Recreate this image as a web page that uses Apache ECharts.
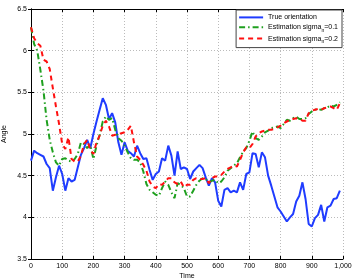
<!DOCTYPE html>
<html><head><meta charset="utf-8">
<script src="https://cdn.jsdelivr.net/npm/echarts@6/dist/echarts.min.js"></script>
<style>html,body{margin:0;padding:0;background:#fff}#c{width:354px;height:280px}</style>
</head><body><div id="c"></div>
<script>
var times = [0,10,20,30,40,50,60,70,80,90,100,110,120,130,140,150,160,170,180,190,200,210,220,230,240,250,260,270,280,290,300,310,320,330,340,350,360,370,380,390,400,410,420,430,440,450,460,470,480,490,500,510,520,530,540,550,560,570,580,590,600,610,620,630,640,650,660,670,680,690,700,710,720,730,740,750,760,770,780,790,800,810,820,830,840,850,860,870,880,890,900,910,920,930,940,950,960,970,980,990];
var trueOrientation = [4.68,4.80,4.77,4.75,4.73,4.64,4.59,4.32,4.48,4.62,4.52,4.32,4.47,4.43,4.45,4.60,4.75,4.83,4.93,4.83,5.00,5.15,5.29,5.43,5.35,5.18,5.25,5.14,4.90,4.75,4.90,4.80,4.77,4.73,4.86,4.77,4.70,4.71,4.57,4.45,4.52,4.55,4.71,4.68,4.86,4.74,4.50,4.79,4.58,4.60,4.58,4.46,4.55,4.59,4.63,4.59,4.48,4.38,4.47,4.42,4.20,4.13,4.33,4.35,4.30,4.32,4.30,4.42,4.33,4.52,4.54,4.77,4.76,4.60,4.78,4.72,4.50,4.38,4.25,4.12,4.07,4.01,3.95,4.00,4.04,4.19,4.26,4.42,4.22,3.92,3.89,3.99,4.03,4.15,3.95,4.12,4.14,4.22,4.23,4.32];
var estSigma01 = [6.28,6.08,6.00,5.77,5.52,5.17,4.93,4.78,4.66,4.62,4.70,4.71,4.68,4.67,4.70,4.76,4.90,4.88,4.83,4.87,4.70,4.86,4.99,5.15,5.21,5.17,5.19,5.05,4.95,4.92,4.86,4.78,4.71,4.69,4.69,4.66,4.55,4.40,4.33,4.30,4.27,4.26,4.35,4.43,4.39,4.30,4.23,4.41,4.39,4.35,4.25,4.25,4.32,4.39,4.44,4.47,4.46,4.42,4.44,4.45,4.41,4.43,4.48,4.56,4.59,4.62,4.65,4.72,4.79,4.83,4.92,5.03,4.95,4.93,4.97,5.02,5.04,5.07,5.08,5.09,5.07,5.12,5.17,5.16,5.19,5.21,5.18,5.18,5.19,5.24,5.27,5.29,5.30,5.29,5.31,5.32,5.34,5.33,5.35,5.38];
var estSigma02 = [6.28,6.15,6.09,6.06,5.89,5.87,5.78,5.55,5.33,5.12,4.88,4.82,4.96,4.70,4.67,4.67,4.74,4.88,4.93,4.81,4.76,4.90,4.98,5.10,5.16,5.09,4.98,4.99,5.00,5.01,5.02,5.05,5.10,4.90,4.73,4.69,4.63,4.56,4.43,4.37,4.35,4.40,4.39,4.43,4.47,4.47,4.42,4.40,4.43,4.36,4.39,4.39,4.45,4.47,4.46,4.46,4.47,4.41,4.47,4.49,4.49,4.51,4.55,4.58,4.60,4.62,4.61,4.69,4.78,4.84,4.83,4.88,4.97,5.01,5.03,5.04,5.05,5.05,5.06,5.08,5.10,5.13,5.15,5.17,5.18,5.19,5.18,5.16,5.16,5.25,5.28,5.29,5.30,5.29,5.31,5.32,5.33,5.31,5.29,5.37];
var seriesNames = ['True orientation','Estimation sigma_n=0.1','Estimation sigma_n=0.2'];

function pairs(vals){ return vals.map(function(v,i){ return [times[i], v]; }); }

var FONT = 'Liberation Sans, Arial, sans-serif';
var chart = echarts.init(document.getElementById('c'), null, {renderer:'canvas'});
var axisLine = {show:true, lineStyle:{color:'#000', width:1}};
chart.setOption({
  animation:false,
  backgroundColor:'#fff',
  grid: {left:31, top:9, right:11, bottom:21, containLabel:false, outerBoundsMode:'none'},
  legend: {
    orient:'vertical', right:12, top:10,
    backgroundColor:'#fff', borderColor:'#444', borderWidth:1,
    padding:[3,4,3,2], itemGap:1, itemWidth:24, itemHeight:11,
    itemStyle:{opacity:0},
    textStyle:{fontFamily:FONT, fontSize:7, color:'#000',
      rich:{a:{fontFamily:FONT,fontSize:7,color:'#000'}, s:{fontFamily:FONT,fontSize:5,color:'#000',padding:[7,0,0,0]}}},
    formatter:function(n){
      var m = n.match(/^(.*)_n(=.*)$/);
      if(m) return '{a|'+m[1]+'}{s|n}{a|'+m[2]+'}';
      return n;
    },
    data: seriesNames
  },
  xAxis: [{
    type:'value', min:0, max:1000, interval:100, position:'bottom',
    name:'Time', nameLocation:'middle', nameGap:14, nameMoveOverlap:false,
    nameTextStyle:{fontFamily:FONT, fontSize:7, color:'#000'},
    axisLine: axisLine, axisTick:{show:true, inside:true, length:3, lineStyle:{color:'#000'}},
    axisLabel:{fontFamily:FONT, fontSize:7, color:'#000', margin:4},
    splitLine:{show:true, lineStyle:{color:'#bbb', type:[1,2], width:1}}
  },{
    type:'value', min:0, max:1000, interval:100, position:'top',
    axisLine: axisLine, axisTick:{show:true, inside:true, length:3, lineStyle:{color:'#000'}},
    axisLabel:{show:false}, splitLine:{show:false}
  }],
  yAxis: [{
    type:'value', min:3.5, max:6.5, interval:0.5, position:'left',
    name:'Angle', nameLocation:'middle', nameGap:23, nameRotate:90, nameMoveOverlap:false,
    nameTextStyle:{fontFamily:FONT, fontSize:7, color:'#000'},
    axisLine: axisLine, axisTick:{show:true, inside:true, length:3, lineStyle:{color:'#000'}},
    axisLabel:{fontFamily:FONT, fontSize:7, color:'#000', margin:4},
    splitLine:{show:true, lineStyle:{color:'#bbb', type:[1,2], width:1}}
  },{
    type:'value', min:3.5, max:6.5, interval:0.5, position:'right',
    axisLine: axisLine, axisTick:{show:true, inside:true, length:3, lineStyle:{color:'#000'}},
    axisLabel:{show:false}, splitLine:{show:false}
  }],
  series: [{
    name: seriesNames[0], type:'line', data: pairs(trueOrientation), symbol:'none',
    lineStyle:{color:'#1f3cff', width:2}, itemStyle:{color:'#1f3cff'}, z:3
  },{
    name: seriesNames[1], type:'line', data: pairs(estSigma01), symbol:'none',
    lineStyle:{color:'#1fa01f', width:2, type:[6,3,1.5,3]}, itemStyle:{color:'#1fa01f'}, z:4
  },{
    name: seriesNames[2], type:'line', data: pairs(estSigma02), symbol:'none',
    lineStyle:{color:'#ff1010', width:2, type:[5,4]}, itemStyle:{color:'#ff1010'}, z:5
  }]
});
</script></body></html>
